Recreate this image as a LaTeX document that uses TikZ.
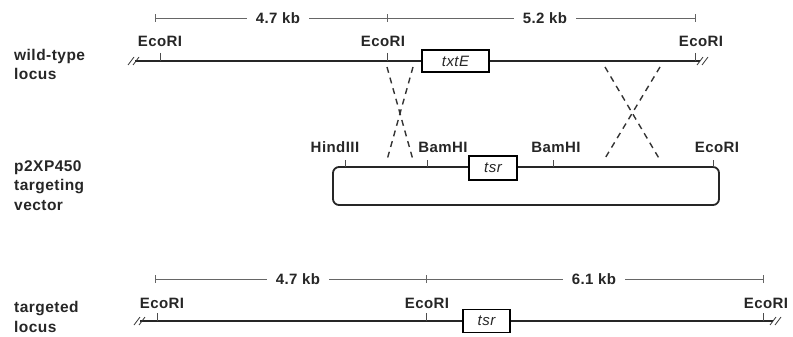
\documentclass[tikz,border=0pt]{standalone}
\usepackage{fontspec}
\setmainfont{Liberation Sans}[LetterSpace=3]
\begin{document}
\begin{tikzpicture}[x=1pt,y=-1pt,
 lbl/.style={font=\fontsize{15}{19}\selectfont\bfseries, inner sep=0pt, anchor=base, text=black!85},
 side/.style={font=\fontsize{15.5}{19.5}\selectfont\bfseries, inner sep=0pt, anchor=base west, align=left, text=black!85},
 kb/.style={font=\fontsize{15}{19}\selectfont\bfseries, fill=white, inner xsep=9pt, inner ysep=1pt, text=black!85},
 locus/.style={line width=2.6pt, black!85},
 scaleline/.style={line width=0.8pt, black!60},
 gene/.style={draw, line width=1.3pt, fill=white, inner sep=0pt, font=\fontsize{15}{18}\selectfont\itshape, text=black!85},
 tickmark/.style={line width=0.6pt, black!70},
 xover/.style={dash pattern=on 6pt off 5pt, line width=1.4pt, black!80},
 brk/.style={line width=0.8pt, black!80},
]
\useasboundingbox (0,0) rectangle (793,337);

% ---------- side labels (anchored at the baseline of the last line)
\node[side] (wt) at (14,80) {wild-type\\locus};
\node[side] (vec) at (14,210) {p2XP450\\targeting\\vector};
\node[side] (tg) at (14,332) {targeted\\locus};

% ---------- top scale
\coordinate (s1a) at (155,18);
\coordinate (s1b) at (387,18);
\coordinate (s1c) at (695,18);
\draw[scaleline] (s1a) -- (s1c);
\foreach \c in {s1a,s1b,s1c} \draw[scaleline] ([yshift=-4pt]\c) -- ([yshift=4pt]\c);
\node[kb] (k1) at (278,18) {4.7 kb};
\node[kb] (k2) at (545,18) {5.2 kb};

% ---------- wild-type locus
\coordinate (wl) at (135,61);
\coordinate (wr) at (700,61);
\draw[locus] (wl) -- (wr);
\foreach \x [count=\i] in {160,387,695} {
  \coordinate (wt\i) at (\x,61);
  \draw[tickmark] (\x,53) -- (wt\i);
}
\draw[brk] (128,65) -- (134,57) (133,65) -- (139,57);
\draw[brk] (697,65) -- (703,57) (702,65) -- (708,57);
\node[gene, minimum width=67pt, minimum height=22pt] (txtE) at (455.5,61) {txtE};
\node[lbl] (e1) at (160,47) {EcoRI};
\node[lbl] (e2) at (383,47) {EcoRI};
\node[lbl] (e3) at (701,47) {EcoRI};

% ---------- crossovers
\coordinate (xa1) at (387,67); \coordinate (xa2) at (413,160);
\coordinate (xb1) at (413,67); \coordinate (xb2) at (387,160);
\coordinate (xc1) at (605,67); \coordinate (xc2) at (660,160);
\coordinate (xd1) at (660,67); \coordinate (xd2) at (604,160);
\draw[xover] (xa1) -- (xa2);
\draw[xover] (xb1) -- (xb2);
\draw[xover] (xc1) -- (xc2);
\draw[xover] (xd1) -- (xd2);

% ---------- targeting vector
\draw[line width=1.8pt, black!85, rounded corners=6pt] (333,167) rectangle (719,205);
\foreach \x [count=\i] in {345,427,553,713} {
  \coordinate (vt\i) at (\x,167);
  \draw[tickmark] (\x,160) -- (vt\i);
}
\node[gene, minimum width=48pt, minimum height=24pt] (tsr1) at (493,168) {tsr};
\node[lbl] (h3) at (335,152) {HindIII};
\node[lbl] (b1) at (443,152) {BamHI};
\node[lbl] (b2) at (556,152) {BamHI};
\node[lbl] (e4) at (717,152) {EcoRI};

% ---------- bottom scale
\coordinate (s2a) at (155,279);
\coordinate (s2b) at (426,279);
\coordinate (s2c) at (763,279);
\draw[scaleline] (s2a) -- (s2c);
\foreach \c in {s2a,s2b,s2c} \draw[scaleline] ([yshift=-4pt]\c) -- ([yshift=4pt]\c);
\node[kb] (k3) at (298,279) {4.7 kb};
\node[kb] (k4) at (594,279) {6.1 kb};

% ---------- targeted locus
\coordinate (tl) at (140,321);
\coordinate (tr) at (773,321);
\draw[locus] (tl) -- (tr);
\foreach \x [count=\i] in {157,426,763} {
  \coordinate (tt\i) at (\x,321);
  \draw[tickmark] (\x,313) -- (tt\i);
}
\draw[brk] (134,325) -- (140,317) (139,325) -- (145,317);
\draw[brk] (770,325) -- (776,317) (775,325) -- (781,317);
\node[gene, minimum width=47pt, minimum height=23pt] (tsr2) at (486.5,321) {tsr};
\node[lbl] (e5) at (162,308) {EcoRI};
\node[lbl] (e6) at (427,308) {EcoRI};
\node[lbl] (e7) at (766,308) {EcoRI};
\end{tikzpicture}
\end{document}
